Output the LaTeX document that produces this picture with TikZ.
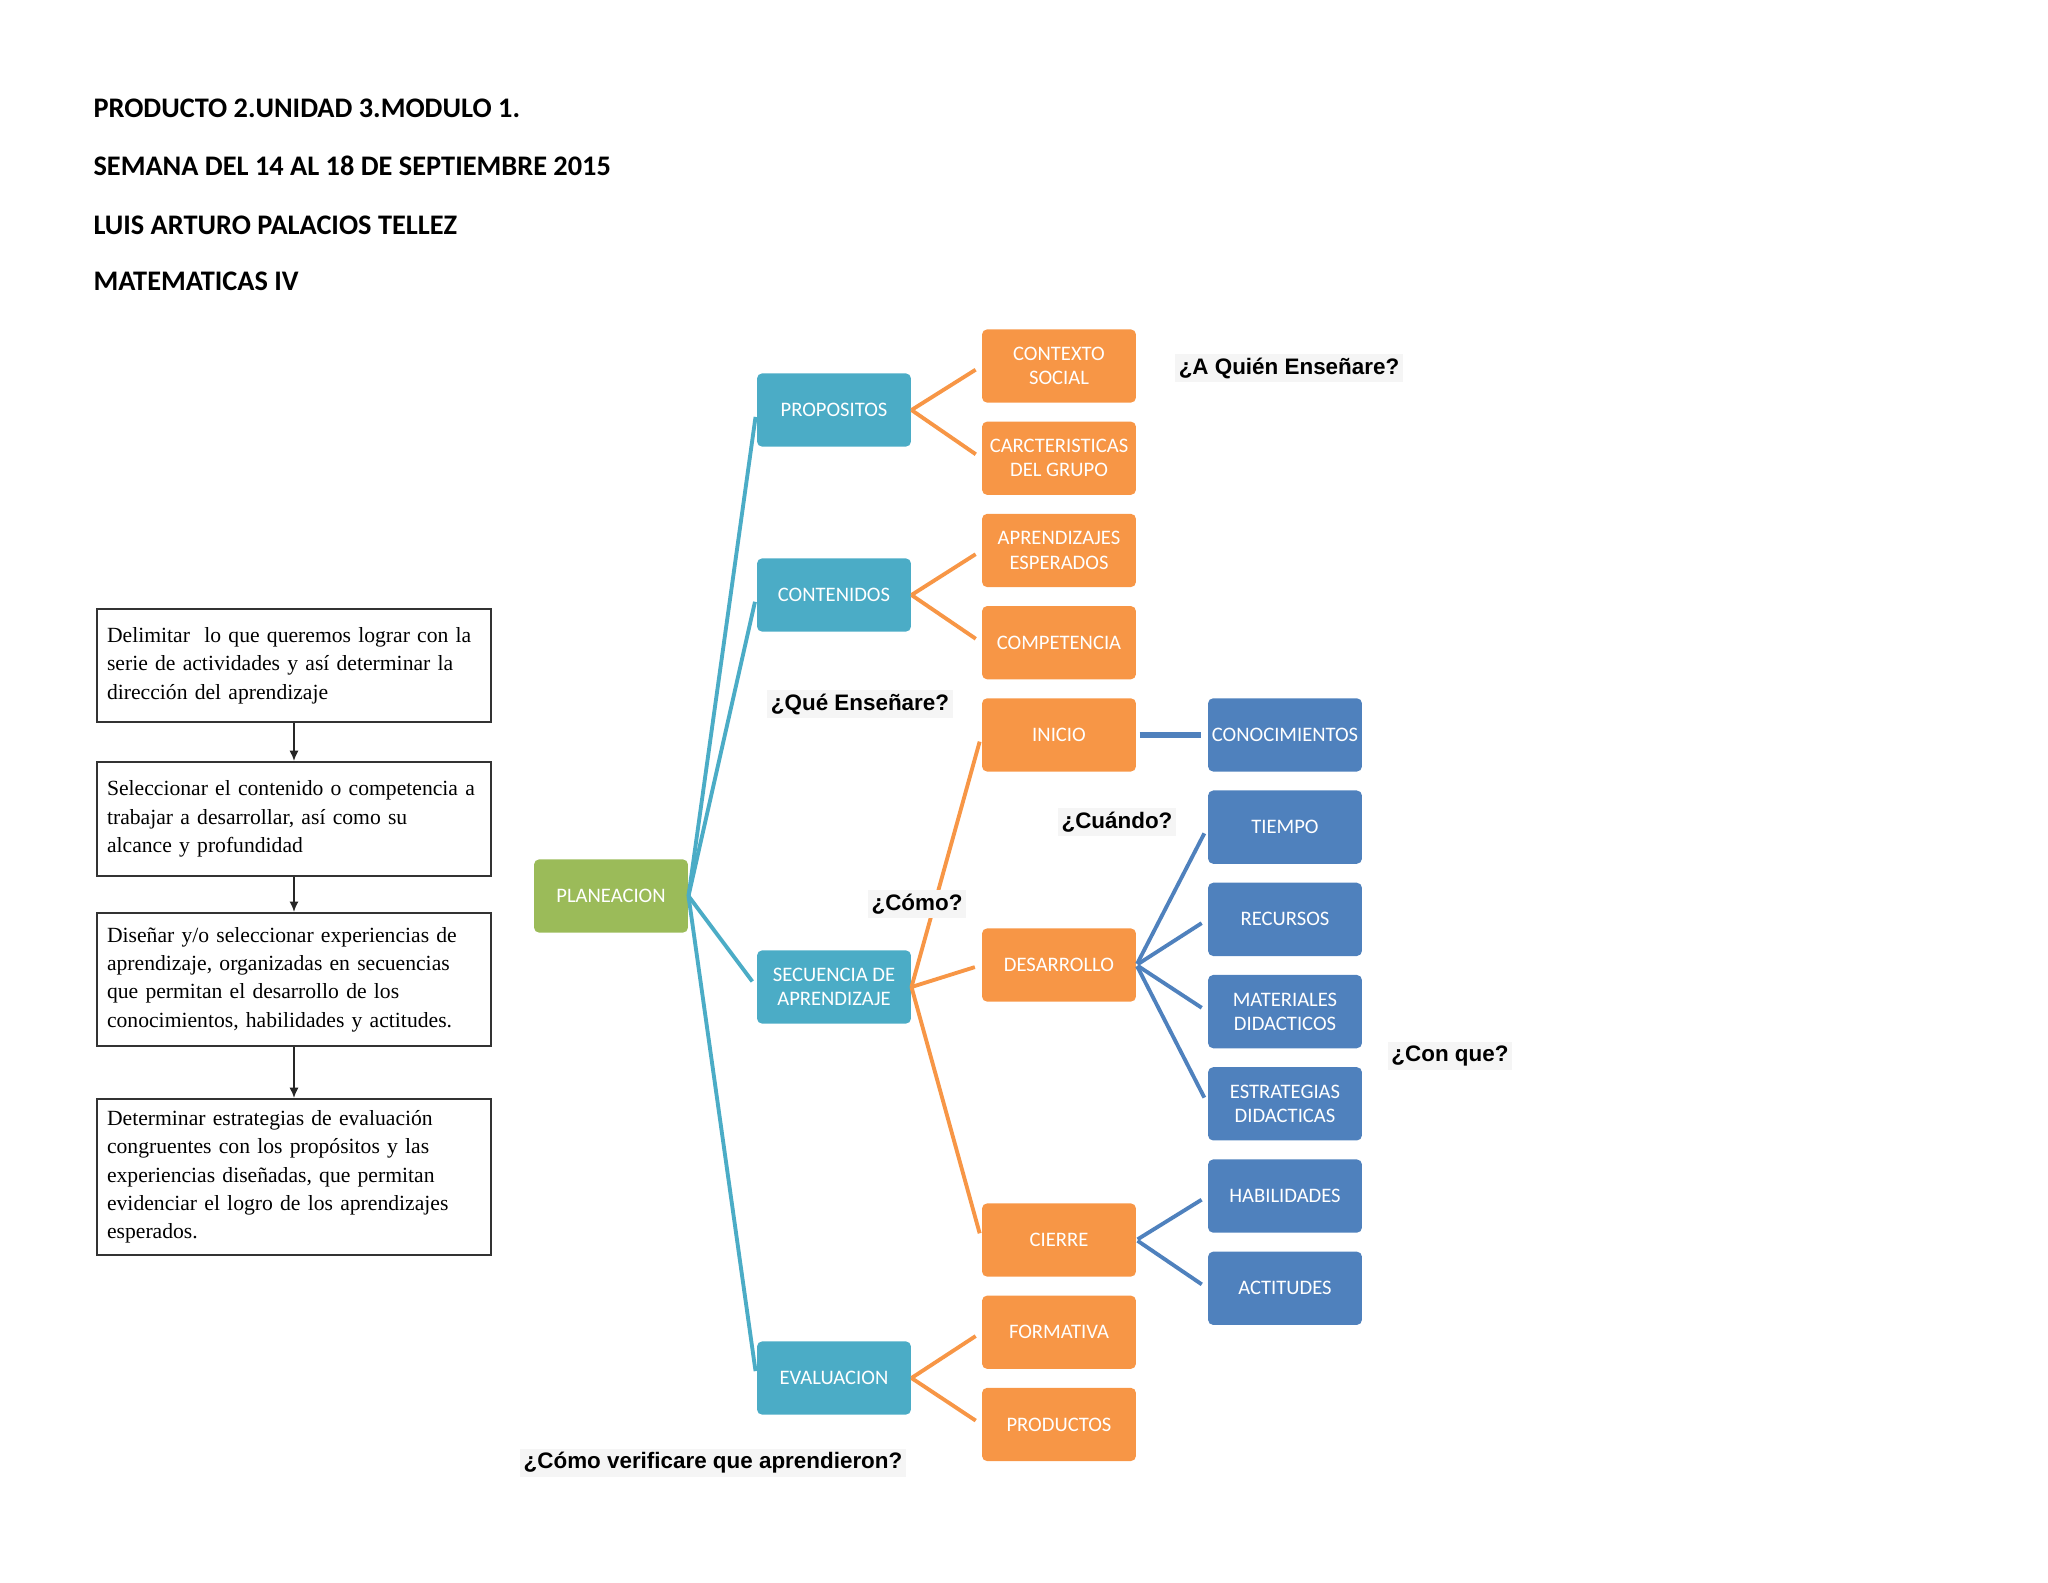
\documentclass[tikz,border=0pt]{standalone}
\usepackage{fontspec}
\setmainfont{Carlito}
\newfontfamily\boxserif{Liberation Serif}
\newfontfamily\askfont{Liberation Sans}
\usetikzlibrary{positioning, arrows.meta}
\definecolor{tealbox}{HTML}{4BACC6}
\definecolor{orangebox}{HTML}{F79646}
\definecolor{greenbox}{HTML}{9BBB59}
\definecolor{bluebox}{HTML}{4F81BD}

\begin{document}
\begin{tikzpicture}[x=0.013643cm, y=-0.013643cm, node distance=0.244cm,
    mapbox/.style={rounded corners=2pt, minimum width=2.1cm, minimum height=1cm, inner sep=1pt, align=center, text=white, font=\fontsize{8}{9.4}\selectfont},
    tealnode/.style={mapbox, fill=tealbox},
    orangenode/.style={mapbox, fill=orangebox},
    bluenode/.style={mapbox, fill=bluebox},
    stepnode/.style={draw=black!80, line width=0.8pt, text width=5.1cm, inner xsep=0.14cm, inner ysep=2pt, align=left, font=\boxserif\fontsize{8.4}{11}\selectfont},
    question/.style={fill=black!4, inner sep=1.5pt, font=\askfont\bfseries\fontsize{8.7}{10}\selectfont},
    title/.style={anchor=west, inner sep=0pt, font=\bfseries\fontsize{11}{13}\selectfont},
    tealline/.style={draw=tealbox, line width=1.5pt, shorten >=2.7pt},
    orangeline/.style={draw=orangebox, line width=1.5pt, shorten >=2.7pt},
    blueline/.style={draw=bluebox, line width=1.5pt, shorten >=2.7pt, shorten <=0.5pt},
    steparrow/.style={-{Latex[length=4pt,width=3.5pt]}, line width=0.6pt, black!85}]

    \useasboundingbox (0,0) rectangle (2048,1582);

    % Header
    \node[title] (t1) at (93,108) {PRODUCTO 2.UNIDAD 3.MODULO 1.};
    \node[title] (t2) at (93,166) {SEMANA DEL 14 AL 18 DE SEPTIEMBRE 2015};
    \node[title] (t3) at (93,225) {LUIS ARTURO PALACIOS TELLEZ};
    \node[title] (t4) at (93,281) {MATEMATICAS IV};

    % Left column (steps)
    \node[stepnode, minimum height=1.542cm] (s1) at (294,665.5) {Delimitar\ \ lo que queremos lograr con la\\serie de actividades y así determinar la\\dirección del aprendizaje};
    \node[stepnode, minimum height=1.555cm] (s2) at (294,819) {Seleccionar el contenido o competencia a\\trabajar a desarrollar, así como su\\alcance y profundidad};
    \node[stepnode, minimum height=1.815cm] (s3) at (294,979.5) {Diseñar y/o seleccionar experiencias de\\aprendizaje, organizadas en secuencias\\que permitan el desarrollo de los\\conocimientos, habilidades y actitudes.};
    \node[stepnode, minimum height=2.128cm] (s4) at (294,1177) {Determinar estrategias de evaluación\\congruentes con los propósitos y las\\experiencias diseñadas, que permitan\\evidenciar el logro de los aprendizajes\\esperados.};
    \draw[steparrow] (s1) -- (s2);
    \draw[steparrow] (s2) -- (s3);
    \draw[steparrow] (s3) -- (s4);

    % Root and first level
    \node[mapbox, fill=greenbox] (plan) at (611,896) {PLANEACION};
    \node[tealnode] (prop) at (834,410) {PROPOSITOS};
    \node[tealnode] (cont) at (834,595) {CONTENIDOS};
    \node[tealnode] (secu) at (834,987) {SECUENCIA DE\\APRENDIZAJE};
    \node[tealnode] (eval) at (834,1378) {EVALUACION};

    % Second level
    \node[orangenode] (ctx) at (1059,366) {CONTEXTO\\SOCIAL};
    \node[orangenode, below=of ctx] (grupo) {CARCTERISTICAS\\DEL GRUPO};
    \node[orangenode, below=of grupo] (aprend) {APRENDIZAJES\\ESPERADOS};
    \node[orangenode, below=of aprend] (compet) {COMPETENCIA};
    \node[orangenode, below=of compet] (inicio) {INICIO};
    \node[orangenode] (desarr) at (1059,965) {DESARROLLO};
    \node[orangenode] (cierre) at (1059,1240) {CIERRE};
    \node[orangenode, below=of cierre] (format) {FORMATIVA};
    \node[orangenode, below=of format] (produc) {PRODUCTOS};

    % Third level
    \node[bluenode, right=0.969cm of inicio] (conoc) {CONOCIMIENTOS};
    \node[bluenode, below=of conoc] (tiempo) {TIEMPO};
    \node[bluenode, below=of tiempo] (recur) {RECURSOS};
    \node[bluenode, below=of recur] (mater) {MATERIALES\\DIDACTICOS};
    \node[bluenode, below=of mater] (estrat) {ESTRATEGIAS\\DIDACTICAS};
    \node[bluenode, below=of estrat] (habil) {HABILIDADES};
    \node[bluenode, below=of habil] (actit) {ACTITUDES};

    % Connectors
    \path[tealline]
    (plan.east) edge (prop.west)
    (plan.east) edge (cont.west)
    (plan.east) edge (secu.west)
    (plan.east) edge (eval.west);
    \path[orangeline]
    (prop.east) edge (ctx.west)
    (prop.east) edge (grupo.west)
    (cont.east) edge (aprend.west)
    (cont.east) edge (compet.west)
    (secu.east) edge (inicio.west)
    (secu.east) edge (desarr.west)
    (secu.east) edge (cierre.west)
    (eval.east) edge (format.west)
    (eval.east) edge (produc.west);
    \path[blueline]
    (inicio.east) edge[line width=2.3pt, shorten <=1.2pt] (conoc.west)
    (desarr.east) edge (tiempo.west)
    (desarr.east) edge (recur.west)
    (desarr.east) edge (mater.west)
    (desarr.east) edge (estrat.west)
    (cierre.east) edge (habil.west)
    (cierre.east) edge (actit.west);

    % Questions
    \node[question] (qwho) at (1289,368) {¿A Quién Enseñare?};
    \node[question] (qwhat) at (860,704) {¿Qué Enseñare?};
    \node[question] (qwhen) at (1117,822) {¿Cuándo?};
    \node[question] (qhow) at (917,904) {¿Cómo?};
    \node[question] (qwith) at (1450,1056) {¿Con que?};
    \node[question] (qcheck) at (713,1463) {¿Cómo verificare que aprendieron?};
\end{tikzpicture}
\end{document}
